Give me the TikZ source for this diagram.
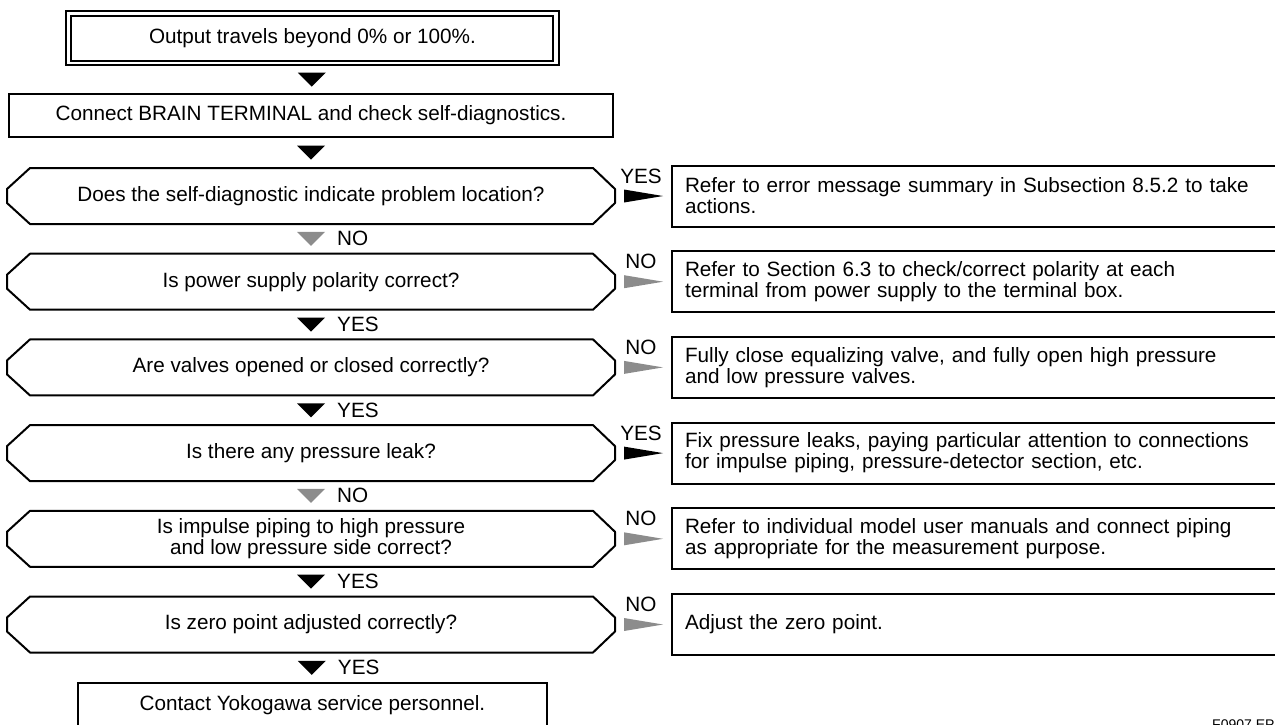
\documentclass[tikz,border=0pt]{standalone}
\usepackage{fontspec}
\setmainfont{Liberation Sans}
\usetikzlibrary{calc}
\definecolor{arrgrey}{gray}{0.55}
\newcommand\fs{\fontsize{20.7}{21}\selectfont}
\tikzset{
  box/.style={draw, line width=2pt, inner sep=0pt, outer sep=0pt, font=\fs, align=center},
  dec/.style={inner sep=0pt, outer sep=0pt, minimum width=608pt, minimum height=56pt, font=\fs, align=center},
  hexline/.style={line width=2pt, line join=round},
  rbox/.style={draw, line width=2pt, anchor=west, minimum height=61pt, text width=590pt, inner xsep=13pt, inner ysep=0pt, outer sep=0pt, font=\fs, align=left},
  lbl/.style={font=\fs, inner sep=0pt},
  yescol/.style={fill=black},
  nocol/.style={fill=arrgrey}
}
\newcommand\hexpath[1]{\draw[hexline] ($(#1.north west)+(23,0)$) -- ($(#1.north east)+(-22,0)$) -- ($(#1.east)+(0,-7)$) -- ($(#1.east)+(0,7)$) -- ($(#1.south east)+(-22,0)$) -- ($(#1.south west)+(23,0)$) -- ($(#1.west)+(0,7)$) -- ($(#1.west)+(0,-7)$) -- cycle;}
% vertical triangle between #1 and #2, style #3
\newcommand\vtri[3]{\fill[#3] ($(#1.south)!0.5!(#2.north)+(-14,-7)$) -- ++(28,0) -- ++(-14,14) -- cycle;}
% vertical triangle with label
\newcommand\vtril[4]{\vtri{#1}{#2}{#3}\node[lbl, anchor=base west] at ($(#1.south)!0.5!(#2.north)+(26,7)$) {#4};}
% horizontal triangle between #1 and #2 with label
\newcommand\htri[4]{\fill[#3] ($(#1.east)!0.5!(#2.west)+(-19.5,-6.5)$) -- ++(0,13) -- ++(39,-6.5) -- cycle;
  \node[lbl, anchor=base] at ($(#1.east)!0.5!(#2.west)+(-2.5,-13)$) {#4};}
\begin{document}
\begin{tikzpicture}[x=1pt,y=-1pt]
\useasboundingbox (0,0) rectangle (1275,724);
% start box with double frame
\node[box, line width=2.4pt, minimum width=493pt, minimum height=54pt] (start) at (312.5,38) {Output travels beyond 0\% or 100\%.};
\draw[line width=1.8pt] ($(start.north west)+(5,5)$) rectangle ($(start.south east)+(-6,-4)$);
\node[box, minimum width=604pt, minimum height=43pt] (brain) at (311,115.5) {Connect BRAIN TERMINAL and check self-diagnostics.};
% decisions
\node[dec] (d1) at (311,196) {Does the self-diagnostic indicate problem location?};
\node[dec] (d2) at (311,281.7) {Is power supply polarity correct?};
\node[dec] (d3) at (311,367.4) {Are valves opened or closed correctly?};
\node[dec] (d4) at (311,453.1) {Is there any pressure leak?};
\node[dec] (d5) at (311,538.8) {Is impulse piping to high pressure\\and low pressure side correct?};
\node[dec] (d6) at (311,624.5) {Is zero point adjusted correctly?};
\hexpath{d1}\hexpath{d2}\hexpath{d3}\hexpath{d4}\hexpath{d5}\hexpath{d6}
% right boxes
\node[rbox] (r1) at (672,196) {Refer to error message summary in Subsection 8.5.2 to take\\actions.};
\node[rbox] (r2) at (672,281.7) {Refer to Section 6.3 to check/correct polarity at each\\terminal from power supply to the terminal box.};
\node[rbox] (r3) at (672,367.4) {Fully close equalizing valve, and fully open high pressure\\and low pressure valves.};
\node[rbox] (r4) at (672,453.1) {Fix pressure leaks, paying particular attention to connections\\for impulse piping, pressure-detector section, etc.};
\node[rbox] (r5) at (672,538.8) {Refer to individual model user manuals and connect piping\\as appropriate for the measurement purpose.};
\node[rbox] (r6) at (672,624.5) {Adjust the zero point.};
% final box
\node[box, minimum width=469pt, minimum height=44pt] (final) at (312.5,705) {Contact Yokogawa service personnel.};
% vertical arrows
\vtri{start}{brain}{yescol}
\vtri{brain}{d1}{yescol}
\vtril{d1}{d2}{nocol}{NO}
\vtril{d2}{d3}{yescol}{YES}
\vtril{d3}{d4}{yescol}{YES}
\vtril{d4}{d5}{nocol}{NO}
\vtril{d5}{d6}{yescol}{YES}
\vtril{d6}{final}{yescol}{YES}
% horizontal arrows
\htri{d1}{r1}{yescol}{YES}
\htri{d2}{r2}{nocol}{NO}
\htri{d3}{r3}{nocol}{NO}
\htri{d4}{r4}{yescol}{YES}
\htri{d5}{r5}{nocol}{NO}
\htri{d6}{r6}{nocol}{NO}
% figure code
\node[font=\fontsize{14}{16}\selectfont, anchor=base west, inner sep=0pt] (figcode) at (1212,729) {F0907.EPS};
\end{tikzpicture}
\end{document}
